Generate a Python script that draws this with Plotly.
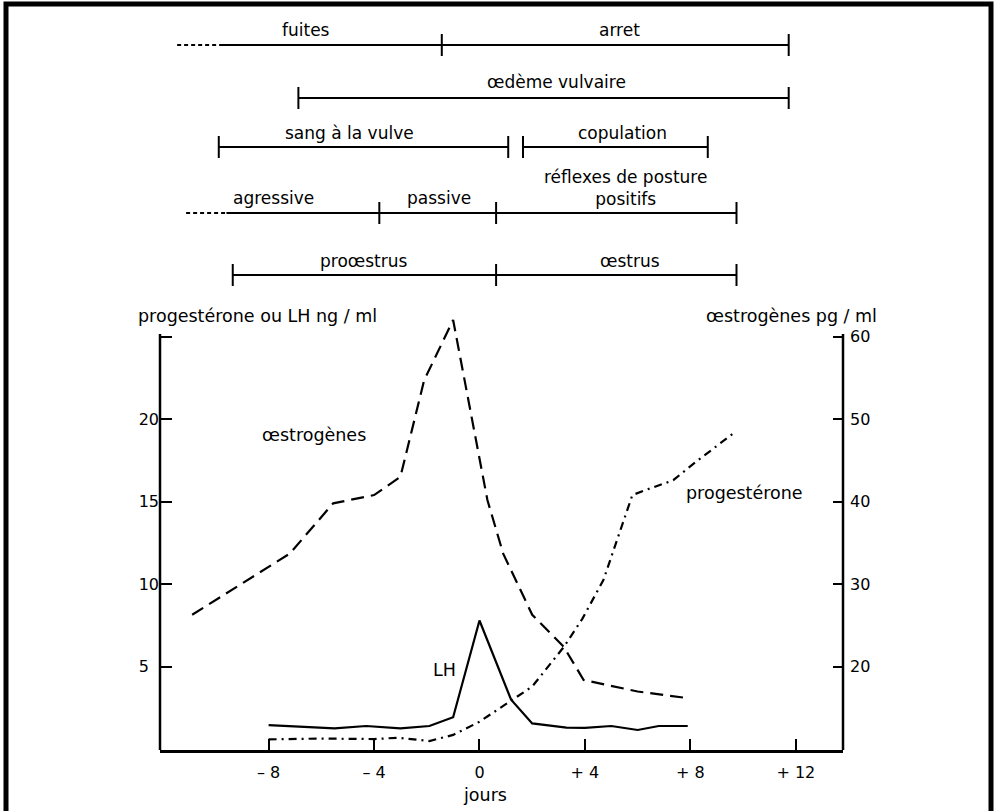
import plotly.graph_objects as go

# ---------------- data (days relative to LH peak) ----------------
estro_days = [-10.9, -7.2, -5.55, -4.0, -3.0, -2.1, -1.0, 0.3, 0.9, 2.0, 3.2, 3.95, 6.0, 7.9]
estro_vals = [26.3, 33.7, 39.8, 40.8, 43.0, 54.7, 62.0, 40.2, 33.7, 26.3, 22.4, 18.4, 17.0, 16.2]   # pg/ml

lh_days = [-8.0, -5.5, -4.3, -3.0, -1.9, -1.0, 0.0, 1.2, 2.0, 3.3, 4.0, 5.0, 6.0, 6.8, 7.9]
lh_vals = [1.47, 1.27, 1.41, 1.27, 1.41, 1.94, 7.8, 3.0, 1.57, 1.31, 1.3, 1.41, 1.17, 1.41, 1.41]  # ng/ml

prog_days = [-8.0, -6.0, -4.0, -3.1, -1.9, -1.0, 0.0, 1.2, 2.0, 3.2, 3.9, 4.7, 5.3, 5.8, 6.3, 7.35, 8.2, 9.6]
prog_vals = [0.6, 0.65, 0.62, 0.7, 0.5, 0.87, 1.67, 2.95, 3.8, 6.2, 7.9, 10.25, 13.1, 15.4, 15.7, 16.3, 17.4, 19.1]  # ng/ml

day_ticks = [-8, -4, 0, 4, 8, 12]
day_tick_text = ["\u2013 8", "\u2013 4", "0", "+ 4", "+ 8", "+ 12"]
left_ticks = [5, 10, 15, 20, 25]
left_tick_text = ["5\u00a0\u00a0", "10", "15", "20", ""]
right_ticks = [20, 30, 40, 50, 60]
right_tick_text = ["20", "30", "40", "50", "60"]

# timeline rows: (label, start day, end day)
row1_segments = [("fuites", -9.73, -1.43), ("arret", -1.43, 11.73)]
row1_dashed = (-11.47, -9.73)
row2_segments = [("\u0153d\u00e8me vulvaire", -6.87, 11.73)]
row3_segments = [("sang \u00e0 la vulve", -9.89, 1.09), ("copulation", 1.65, 8.66)]
row4_segments = [("agressive", -9.6, -3.8), ("passive", -3.8, 0.63),
                 ("r\u00e9flexes de posture<br>positifs", 0.63, 9.75)]
row4_dashed = (-11.13, -9.6)
row5_segments = [("pro\u0153strus", -9.36, 0.63), ("\u0153strus", 0.63, 9.75)]

# ---------------- layout geometry (pixels) ----------------
W, H = 1000, 811
PL, PR, PT, PB = 160, 843, 310, 750
FONT = "DejaVu Sans"
PX_PER_UNIT = 16.51          # left axis: pixels per ng/ml
ZERO_PX = 749.3              # pixel row of 0 ng/ml
L_LO = (ZERO_PX - PB) / PX_PER_UNIT
L_HI = (ZERO_PX - PT) / PX_PER_UNIT
LEFT_TOP = 25.15             # end of the drawn left axis line
RIGHT_TOP = 10 + 2 * LEFT_TOP


def xp(px):
    return (px - PL) / (PR - PL)


def yp(py):
    return (PB - py) / (PB - PT)


fig = go.Figure()
fig.add_trace(go.Scatter(x=estro_days, y=estro_vals, yaxis="y2", mode="lines",
                         line=dict(color="black", width=2.2, dash="13px,7px"),
                         showlegend=False))
fig.add_trace(go.Scatter(x=prog_days, y=prog_vals, mode="lines",
                         line=dict(color="black", width=2.2, dash="8px,5px,2px,5px"),
                         showlegend=False))
fig.add_trace(go.Scatter(x=lh_days, y=lh_vals, mode="lines",
                         line=dict(color="black", width=2.2),
                         showlegend=False))

shapes = []
annotations = []

# frame
shapes.append(dict(type="rect", xref="paper", yref="paper",
                   x0=xp(6), x1=xp(991), y0=yp(840), y1=yp(4),
                   line=dict(color="black", width=5), fillcolor="rgba(0,0,0,0)"))

# vertical axis lines (end at 25 ng/ml and 60 pg/ml)
shapes.append(dict(type="line", xref="paper", yref="y", x0=0, x1=0, y0=L_LO, y1=LEFT_TOP,
                   line=dict(color="black", width=2.5)))
shapes.append(dict(type="line", xref="paper", yref="y2", x0=1, x1=1,
                   y0=10 + 2 * L_LO, y1=RIGHT_TOP, line=dict(color="black", width=2.5)))


def hline(x0, x1, py, dash="solid"):
    shapes.append(dict(type="line", xref="x", yref="paper", x0=x0, x1=x1,
                       y0=yp(py), y1=yp(py), line=dict(color="black", width=2, dash=dash)))


def vtick(x, py, half=11):
    shapes.append(dict(type="line", xref="x", yref="paper", x0=x, x1=x,
                       y0=yp(py - half), y1=yp(py + half), line=dict(color="black", width=2)))


def label(text, x, py):
    annotations.append(dict(text=text, x=x, y=yp(py), xref="x", yref="paper",
                            showarrow=False, xanchor="center", yanchor="middle",
                            font=dict(family=FONT, size=17, color="black")))


# row 1
y1 = 45
hline(*row1_dashed, y1, dash="4px,3px")
for name, a, b in row1_segments:
    hline(a, b, y1)
vtick(row1_segments[0][2], y1)
vtick(row1_segments[1][2], y1)
label("fuites", -6.6, 30)
label("arret", 5.3, 30)

# row 2
y2 = 98
for name, a, b in row2_segments:
    hline(a, b, y2)
    vtick(a, y2)
    vtick(b, y2)
label(row2_segments[0][0], 2.94, 82)

# row 3
y3 = 147
for name, a, b in row3_segments:
    hline(a, b, y3)
    vtick(a, y3)
    vtick(b, y3)
label(row3_segments[0][0], -4.93, 133)
label(row3_segments[1][0], 5.44, 133)

# row 4
y4 = 213
hline(*row4_dashed, y4, dash="4px,3px")
for name, a, b in row4_segments:
    hline(a, b, y4)
vtick(row4_segments[0][2], y4)
vtick(row4_segments[1][2], y4)
vtick(row4_segments[2][2], y4)
label(row4_segments[0][0], -7.83, 198)
label(row4_segments[1][0], -1.55, 198)
label(row4_segments[2][0], 5.55, 188)

# row 5
y5 = 275
for name, a, b in row5_segments:
    hline(a, b, y5)
vtick(row5_segments[0][1], y5)
vtick(row5_segments[0][2], y5)
vtick(row5_segments[1][2], y5)
label(row5_segments[0][0], -4.4, 261)
label(row5_segments[1][0], 5.7, 261)

# axis titles / curve labels
annotations.append(dict(text="progest\u00e9rone ou LH ng / ml", x=xp(136), y=yp(316),
                        xref="paper", yref="paper", showarrow=False,
                        xanchor="left", yanchor="middle",
                        font=dict(family=FONT, size=17.5, color="black")))
annotations.append(dict(text="\u0153strog\u00e8nes pg / ml", x=xp(879), y=yp(316),
                        xref="paper", yref="paper", showarrow=False,
                        xanchor="right", yanchor="middle",
                        font=dict(family=FONT, size=17.5, color="black")))
annotations.append(dict(text="jours", x=xp(485), y=yp(795),
                        xref="paper", yref="paper", showarrow=False,
                        xanchor="center", yanchor="middle",
                        font=dict(family=FONT, size=17.5, color="black")))
annotations.append(dict(text="\u0153strog\u00e8nes", x=-6.27, y=19.04, xref="x", yref="y",
                        showarrow=False, xanchor="center", yanchor="middle",
                        font=dict(family=FONT, size=17.5, color="black")))
annotations.append(dict(text="progest\u00e9rone", x=10.06, y=15.54, xref="x", yref="y",
                        showarrow=False, xanchor="center", yanchor="middle",
                        font=dict(family=FONT, size=17.5, color="black")))
annotations.append(dict(text="LH", x=-1.31, y=4.8, xref="x", yref="y",
                        showarrow=False, xanchor="center", yanchor="middle",
                        font=dict(family=FONT, size=17.5, color="black")))

tick_common = dict(showgrid=False, zeroline=False, ticks="inside", tickcolor="black",
                   tickwidth=2, tickfont=dict(family=FONT, size=16, color="black"))

fig.update_layout(
    width=W, height=H,
    margin=dict(l=PL, r=W - PR, t=PT, b=H - PB),
    paper_bgcolor="white", plot_bgcolor="white",
    font=dict(family=FONT, color="black"),
    showlegend=False,
    xaxis=dict(range=[-12.12, 13.79], tickvals=day_ticks, ticktext=day_tick_text,
               showline=True, linecolor="black", linewidth=2.5,
               ticklen=11, ticklabelstandoff=6, **tick_common),
    yaxis=dict(range=[L_LO, L_HI], tickvals=left_ticks, ticktext=left_tick_text,
               showline=False, ticklen=12, **tick_common),
    yaxis2=dict(range=[10 + 2 * L_LO, 10 + 2 * L_HI], overlaying="y", side="right",
                tickvals=right_ticks, ticktext=right_tick_text, showline=False,
                ticklen=10, ticklabelstandoff=6, **tick_common),
    shapes=shapes,
    annotations=annotations,
)

fig.write_html("out.html", config={"displayModeBar": False},
               post_script="document.body.style.margin='0';document.body.style.overflow='hidden';")
